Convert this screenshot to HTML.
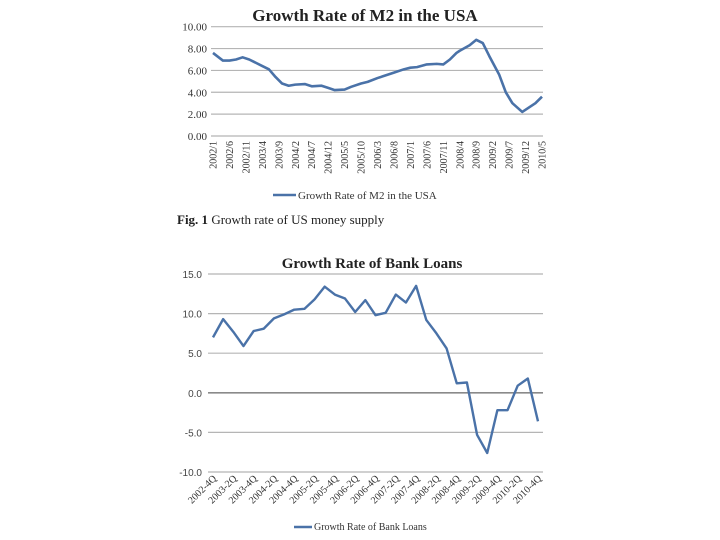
<!DOCTYPE html>
<html><head><meta charset="utf-8"><style>
body{margin:0;background:#fff;}
svg{display:block;font-family:"Liberation Serif",serif;}
</style></head><body>
<svg id="s" width="720" height="540" xmlns="http://www.w3.org/2000/svg">
<text x="365" y="21" text-anchor="middle" font-size="17" font-weight="bold" fill="#222">Growth Rate of M2 in the USA</text>
<g id="c1"></g>
<line x1="273" y1="195" x2="296" y2="195" stroke="#4a72a8" stroke-width="2.5"/>
<text x="298" y="199" font-size="11" fill="#333">Growth Rate of M2 in the USA</text>
<text x="177" y="224" font-size="13" fill="#222"><tspan font-weight="bold">Fig. 1</tspan>  Growth rate of US money supply</text>
<text x="372" y="268" text-anchor="middle" font-size="15" font-weight="bold" fill="#222">Growth Rate of Bank Loans</text>
<g id="c2"></g>
<line x1="294" y1="527" x2="312" y2="527" stroke="#4a72a8" stroke-width="2.5"/>
<text x="314" y="530" font-size="10" fill="#333">Growth Rate of Bank Loans</text>
</svg>
<script>
const m2Idx=[0,3,5,7,9,11,13,15,17,19,21,23,25,28,30,33,35,37,40,42,45,47,50,52,55,58,60,62,65,68,70,72,74,75,78,80,82,84,87,89,91,94,96,98,100];
const m2Vals=[7.6,6.9,6.9,7.0,7.2,7.0,6.7,6.4,6.1,5.4,4.8,4.6,4.7,4.75,4.55,4.6,4.4,4.2,4.25,4.5,4.8,4.95,5.3,5.5,5.8,6.1,6.25,6.3,6.55,6.6,6.55,7.0,7.6,7.8,8.3,8.8,8.5,7.3,5.6,4.0,3.0,2.2,2.6,3.0,3.6];
const m2Labels=["2002/1","2002/6","2002/11","2003/4","2003/9","2004/2","2004/7","2004/12","2005/5","2005/10","2006/3","2006/8","2007/1","2007/6","2007/11","2008/4","2008/9","2009/2","2009/7","2009/12","2010/5"];
const m2Ticks=[0,2,4,6,8,10];
const loanLabels=["2002-4Q","2003-2Q","2003-4Q","2004-2Q","2004-4Q","2005-2Q","2005-4Q","2006-2Q","2006-4Q","2007-2Q","2007-4Q","2008-2Q","2008-4Q","2009-2Q","2009-4Q","2010-2Q","2010-4Q"];
const loanVals=[7.0,9.3,7.7,5.9,7.8,8.1,9.4,9.9,10.5,10.6,11.8,13.4,12.4,11.9,10.2,11.7,9.8,10.1,12.4,11.4,13.5,9.2,7.5,5.6,1.2,1.3,-5.3,-7.6,-2.2,-2.2,0.9,1.8,-3.6];
const loanTicks=[-10,-5,0,5,10,15];
const NS="http://www.w3.org/2000/svg";
function mk(p,t,a,txt){const e=document.createElementNS(NS,t);for(const k in a)e.setAttribute(k,a[k]);if(txt!==undefined)e.textContent=txt;p.appendChild(e);return e;}
// chart 1
const g1=document.getElementById('c1');
const x1=i=>213+i*(542-213)/100, y1=v=>136-v*10.93;
m2Ticks.forEach(t=>{
 const l=mk(g1,'line',{x1:211,x2:543,y1:y1(t),y2:y1(t),stroke:'#b5b5b5','stroke-width':1.2});
 
 
 const tx=mk(g1,'text',{x:207,y:y1(t)+4,'text-anchor':'end','font-size':11,fill:'#333'},t.toFixed(2));
 
 
});
m2Labels.forEach((s,k)=>{
 const x=x1(k*5);
 const tx=mk(g1,'text',{x:0,y:0,transform:`translate(${x+3.5},${141}) rotate(-90)`,'text-anchor':'end','font-size':10,fill:'#333'},s);
 
 
});
const p1=mk(g1,'polyline',{points:m2Idx.map((i,k)=>x1(i)+','+y1(m2Vals[k])).join(' '),fill:'none',stroke:'#4a72a8','stroke-width':2.6,'stroke-linejoin':'round'});


// chart 2
const g2=document.getElementById('c2');
const x2=i=>213+i*(538-213)/(loanVals.length-1), y2=v=>392.8-v*7.92;
loanTicks.forEach(t=>{
 const l=mk(g2,'line',{x1:208,x2:543,y1:y2(t),y2:y2(t),stroke:t===0?'#8a8a8a':'#b5b5b5','stroke-width':t===0?1.6:1.2});
 
 
 const tx=mk(g2,'text',{x:202,y:y2(t)+4,'text-anchor':'end','font-size':10,fill:'#444','font-family':'Liberation Sans, sans-serif'},t.toFixed(1));
 
 
});
loanLabels.forEach((s,k)=>{
 const x=x2(k*2);
 const tx=mk(g2,'text',{x:0,y:0,transform:`translate(${x+4},${479}) rotate(-45)`,'text-anchor':'end','font-size':10,fill:'#333'},s);
 
 
});
const p2=mk(g2,'polyline',{points:loanVals.map((v,i)=>x2(i)+','+y2(v)).join(' '),fill:'none',stroke:'#4a72a8','stroke-width':2.4,'stroke-linejoin':'round'});


</script>
</body></html>
